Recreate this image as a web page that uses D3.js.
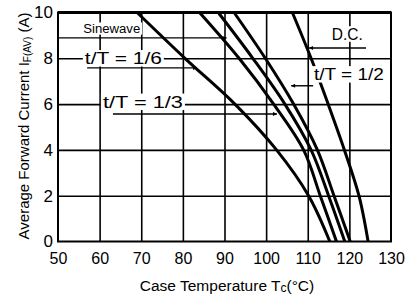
<!DOCTYPE html>
<html>
  <head>
    <meta charset="UTF-8">
    <title>Average Forward Current vs Case Temperature</title>
    <style type="text/css">
      body { margin: 0; background: #fff; }
      svg { font-family: "Liberation Sans", Arial, Helvetica, sans-serif; }
      .grid line { stroke: #000; stroke-width: 1.6; }
      .grid path { display: none; }
      .ticks path { display: none; }
      .ticks text { fill: #000; }
      .curve { fill: none; stroke: #000; stroke-width: 3; }
      .leader { stroke: #000; stroke-width: 1.4; }
    </style>
  </head>
  <body>
    <script src="https://d3js.org/d3.v7.min.js"></script>
    <script>

      // Data
      var currents = [10, 8, 6, 4, 2, 0];            // I F(AV), A
      var tSixth   = [69, 80.5, 92.5, 102.5, 110.2, 115.3];   // t/T = 1/6
      var tThird   = [84, 93.5, 101.8, 109, 113, 116.9];      // t/T = 1/3
      var tSine    = [88.5, 96.8, 104.5, 110.8, 115, 118.9];  // sinewave
      var tHalf    = [92.3, 99.8, 106.6, 112.3, 116.3, 120.2]; // t/T = 1/2
      var tDC      = [106.3, 110.8, 114.9, 118.8, 122.3, 124.5]; // D.C.

      var xTicks = [50, 60, 70, 80, 90, 100, 110, 120, 130];
      var yTicks = [0, 2, 4, 6, 8, 10];

      // labels: text, centre (T, I), leader from (T,I) to (T,I)
      var labelText = ["Sinewave", "t/T = 1/6", "t/T = 1/3", "D.C.", "t/T = 1/2"];
      var labelPos  = [[62.9, 9.3], [65.7, 8.0], [70.4, 6.1], [119.5, 9.06], [119.9, 7.3]];
      var leaderFrom = [[50, 8.89], [57, 7.58], [63.2, 5.57], [124, 8.45], [111.3, 6.8]];
      var leaderTo   = [[90.5, 8.89], [83.4, 7.58], [102.6, 5.57], [110.3, 8.45], [106, 6.8]];

      var svgWidth = 412, svgHeight = 297;
      var plot = {left: 58, right: 391, top: 12.5, bottom: 241.5};

      var svg = d3.select("body")
                  .append("svg")
                  .attr("width", svgWidth)
                  .attr("height", svgHeight);

      var defs = svg.append("defs");
      defs.append("marker")
          .attr("id", "arrow")
          .attr("viewBox", "0 0 10 10")
          .attr("refX", 10)
          .attr("refY", 5)
          .attr("markerWidth", 5)
          .attr("markerHeight", 4)
          .attr("markerUnits", "userSpaceOnUse")
          .attr("orient", "auto")
          .append("path")
          .attr("d", "M0,0L10,5L0,10Z")
          .attr("fill", "#000");

      var xScale = d3.scaleLinear().domain([50, 130]).range([plot.left, plot.right]);
      var yScale = d3.scaleLinear().domain([0, 10]).range([plot.bottom, plot.top]);

      // grid
      svg.append("g")
         .attr("class", "grid")
         .attr("transform", "translate(0," + plot.bottom + ")")
         .call(d3.axisBottom(xScale).tickValues(xTicks.slice(1, -1))
                 .tickSize(-(plot.bottom - plot.top)).tickFormat(""));

      svg.append("g")
         .attr("class", "grid")
         .attr("transform", "translate(" + plot.left + ",0)")
         .call(d3.axisLeft(yScale).tickValues(yTicks.slice(1, -1))
                 .tickSize(-(plot.right - plot.left)).tickFormat(""));

      // curves
      var series = [tSixth, tThird, tSine, tHalf, tDC];
      var line = d3.line()
                   .x(d => xScale(d[0]))
                   .y(d => yScale(d[1]))
                   .curve(d3.curveCatmullRom.alpha(0.5));

      svg.selectAll("path.curve")
         .data(series)
         .enter()
         .append("path")
         .attr("class", "curve")
         .attr("d", s => line(s.map((t, i) => [t, currents[i]])));

      // frame
      svg.append("rect")
         .attr("x", plot.left)
         .attr("y", plot.top)
         .attr("width", plot.right - plot.left)
         .attr("height", plot.bottom - plot.top)
         .attr("fill", "none")
         .attr("stroke", "#000")
         .attr("stroke-width", 2);
      svg.append("line")
         .attr("x1", plot.left).attr("x2", plot.right)
         .attr("y1", plot.top).attr("y2", plot.top)
         .attr("stroke", "#000").attr("stroke-width", 3.2);

      // leaders
      svg.selectAll("line.leader")
         .data(leaderFrom)
         .enter()
         .append("line")
         .attr("class", "leader")
         .attr("x1", d => xScale(d[0]))
         .attr("y1", d => yScale(d[1]))
         .attr("x2", (d, i) => xScale(leaderTo[i][0]))
         .attr("y2", (d, i) => yScale(leaderTo[i][1]))
         .attr("marker-end", "url(#arrow)");

      // labels with white backing
      var labelSize = [12, 17, 17, 16, 17];
      var labelLen  = [57, 77, 80, 31, 70];
      labelText.forEach(function(txt, i) {
        var g = svg.append("g");
        var cx = xScale(labelPos[i][0]), cy = yScale(labelPos[i][1]);
        var h = labelSize[i] * 0.85;
        g.append("rect")
         .attr("x", cx - labelLen[i] / 2 - 2)
         .attr("y", cy - h / 2 - 1)
         .attr("width", labelLen[i] + 4)
         .attr("height", h + 2)
         .attr("fill", "#fff");
        g.append("text")
         .attr("x", cx)
         .attr("y", cy)
         .attr("dy", "0.36em")
         .attr("text-anchor", "middle")
         .attr("font-size", labelSize[i])
         .attr("textLength", labelLen[i])
         .attr("lengthAdjust", "spacingAndGlyphs")
         .style("white-space", "pre")
         .text(txt);
      });

      // tick labels
      var xAxis = svg.append("g")
         .attr("class", "ticks")
         .attr("transform", "translate(0," + plot.bottom + ")")
         .call(d3.axisBottom(xScale).tickValues(xTicks).tickSize(0).tickPadding(11));
      xAxis.selectAll("text").attr("font-size", 16).attr("font-family", null);

      var yAxis = svg.append("g")
         .attr("class", "ticks")
         .attr("transform", "translate(" + plot.left + ",0)")
         .call(d3.axisLeft(yScale).tickValues(yTicks).tickSize(0).tickPadding(5));
      yAxis.selectAll("text").attr("font-size", 17).attr("font-family", null);

      // axis titles
      var xt = svg.append("text")
         .attr("x", 227)
         .attr("y", 291)
         .attr("text-anchor", "middle")
         .attr("font-size", 15.5);
      xt.append("tspan").text("Case Temperature T");
      xt.append("tspan").attr("font-size", 12).attr("dy", 1).text("c");
      xt.append("tspan").attr("dy", -1).text("(°C)");

      var yt = svg.append("text")
         .attr("transform", "translate(29,126) rotate(-90)")
         .attr("text-anchor", "middle")
         .attr("font-size", 15);
      yt.append("tspan").text("Average Forward Current I");
      yt.append("tspan").attr("font-size", 10).attr("dy", 2).text("F(AV)");
      yt.append("tspan").attr("dy", -2).text(" (A)");

    </script>
  </body>
</html>
